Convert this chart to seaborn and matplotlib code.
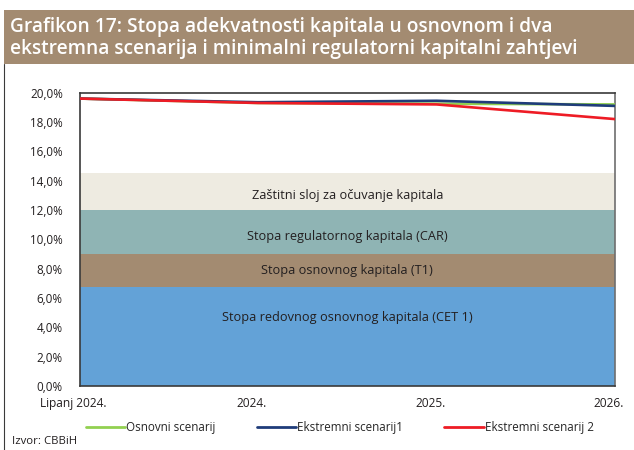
import numpy as np
import pandas as pd
import matplotlib
matplotlib.use("Agg")
import matplotlib.pyplot as plt
import matplotlib.transforms as mtransforms
import seaborn as sns
from matplotlib.patches import Rectangle
from matplotlib.lines import Line2D

# data
periods = ["Lipanj 2024.", "2024.", "2025.", "2026."]
osnovni = [19.6, 19.3, 19.25, 19.2]
ekstremni1 = [19.6, 19.35, 19.45, 19.1]
ekstremni2 = [19.6, 19.3, 19.2, 18.2]
series_names = ["Osnovni scenarij", "Ekstremni scenarij1", "Ekstremni scenarij 2"]

# regulatory minimums (cumulative levels)
band_labels = ["Stopa redovnog osnovnog kapitala (CET 1)",
               "Stopa osnovnog kapitala (T1)",
               "Stopa regulatornog kapitala (CAR)",
               "Zaštitni sloj za očuvanje kapitala"]
band_tops = [6.75, 9.0, 12.0, 14.5]
band_colors = ["#63A2D7", "#A38B71", "#8FB4B4", "#EEEBE1"]

line_colors = ["#92D050", "#1F3C7A", "#EE1C25"]

df = pd.DataFrame({
    "x": list(range(len(periods))) * 3,
    "val": osnovni + ekstremni1 + ekstremni2,
    "scenarij": [s for s in series_names for _ in periods],
})

sns.set_style("white")
plt.rcParams["font.family"] = ["Open Sans", "DejaVu Sans"]

fig = plt.figure(figsize=(6.34, 4.5), dpi=100)
ax = fig.add_axes([79.5 / 634, 1 - 386 / 450, (615 - 79.5) / 634, (386 - 92.7) / 450])

# stacked bands
xs = np.arange(len(periods))
bottom = np.zeros(len(periods))
for top, col in zip(band_tops, band_colors):
    ax.fill_between(xs, bottom, np.full(len(periods), top), color=col, lw=0, zorder=1)
    bottom = np.full(len(periods), top)

band_text_y = [4.7, 7.9, 10.2, 13.0]
for lab, y in zip(band_labels, band_text_y):
    ax.text(1.5, y, lab, ha="center", va="center", fontsize=9.2, color="#231F20", zorder=2)

sns.lineplot(data=df, x="x", y="val", hue="scenarij", palette=line_colors,
             linewidth=1.9, ax=ax, legend=False, zorder=3)

ax.set_xlim(0, 3)
ax.set_ylim(0, 20)
ax.set_yticks(np.arange(0, 21, 2))
ax.set_yticklabels([f"{v:.1f}%".replace(".", ",") for v in np.arange(0, 21, 2)])
ax.set_xticks(xs)
ax.set_xticklabels(periods)
ax.tick_params(axis="y", length=0, pad=12, labelsize=8.4, labelcolor="#231F20")
ax.tick_params(axis="x", length=0, pad=8, labelsize=8.6, labelcolor="#231F20")
shift = mtransforms.ScaledTranslation(-6 / 100, 0, fig.dpi_scale_trans)
for lbl in ax.get_xticklabels():
    lbl.set_transform(lbl.get_transform() + shift)
ax.set_xlabel("")
ax.set_ylabel("")
for sp in ax.spines.values():
    sp.set_visible(True)
    sp.set_color("#3A3A3A")
    sp.set_linewidth(1.2)
ax.spines["right"].set_color("#6E6E6E")

handles = [Line2D([], [], color=c, lw=2.0) for c in line_colors]
fig.legend(handles, series_names, loc="center", bbox_to_anchor=(0.536, 1 - 428 / 450),
           ncol=3, frameon=False, fontsize=8.4, handlelength=3.4, handletextpad=0.1,
           columnspacing=3.5)

# title band and frame
fig.patches.append(Rectangle((4 / 634, 1 - 64 / 450), 1, 54 / 450, transform=fig.transFigure,
                             facecolor="#A38B71", edgecolor="none", zorder=0))
fig.add_artist(Line2D([4 / 634, 4 / 634], [0, 1 - 64 / 450], color="#3A3A3A", lw=0.8,
                      transform=fig.transFigure))
fig.text(10 / 634, 1 - 38 / 450,
         "Grafikon 17: Stopa adekvatnosti kapitala u osnovnom i dva\n"
         "ekstremna scenarija i minimalni regulatorni kapitalni zahtjevi",
         color="white", fontsize=13.8, fontweight="semibold", va="center", ha="left",
         linespacing=1.15)
fig.text(12 / 634, 1 - 442 / 450, "Izvor: CBBiH", fontsize=8.2, color="#231F20",
         va="center", ha="left")

fig.savefig("out.png", dpi=100)
